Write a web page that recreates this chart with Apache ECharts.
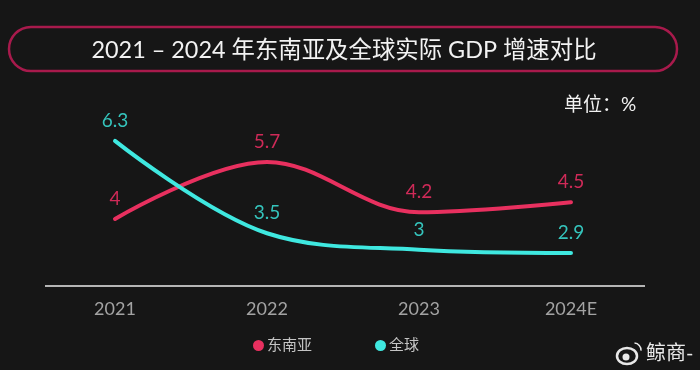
<!DOCTYPE html>
<html><head><meta charset="utf-8">
<style>html,body{margin:0;padding:0;background:#161616}#c{width:700px;height:370px}</style>
<script src="https://cdn.jsdelivr.net/npm/echarts@6/dist/echarts.min.js"></script></head>
<body><div id="c"></div>
<script>
const categories = ['2021', '2022', '2023', '2024E'];
const seaName = '东南亚';
const globalName = '全球';
const seaValues = [4, 5.7, 4.2, 4.5];
const globalValues = [6.3, 3.5, 3, 2.9];
const titleText = '2021 – 2024 年东南亚及全球实际 GDP 增速对比';
const unitText = '单位：%';
const font = 'Lato, "Noto Sans CJK SC", sans-serif';
const chart = echarts.init(document.getElementById('c'), null, {renderer: 'canvas'});
function series(name, data, color, labelColor, axis) {
  return {
    name, type: 'line', data, yAxisIndex: axis, smooth: 0.36, showSymbol: true,
    symbol: 'circle', symbolSize: 1,
    lineStyle: {color, width: 4, cap: 'round'},
    itemStyle: {color},
    label: {show: true, position: 'top', distance: 10, color: labelColor,
      fontSize: 19, fontFamily: font}
  };
}
chart.setOption({
  backgroundColor: '#161616',
  animation: false,
  grid: {left: 39, width: 608, top: 100, height: 186},
  xAxis: {type: 'category', data: categories, boundaryGap: true,
    axisLine: {show: false}, axisTick: {show: false},
    axisLabel: {color: '#a3a3a3', fontSize: 18, fontFamily: font, margin: 14}},
  yAxis: [
    {type: 'value', min: 2, max: 7.55, show: false, splitLine: {show: false}},
    {type: 'value', min: 1.9, max: 7.54, show: false, splitLine: {show: false}}
  ],
  legend: {top: 333, left: 248, itemGap: 63, itemWidth: 11, itemHeight: 11, icon: 'circle',
    data: [seaName, globalName],
    textStyle: {color: '#c4c4c4', fontSize: 15, padding: [0, 0, 0, -2], fontFamily: font}},
  series: [
    series(seaName, seaValues, '#e8305f', '#cf2a58', 0),
    series(globalName, globalValues, '#3fe8e0', '#35c4bc', 1)
  ],
  graphic: [
    {type: 'rect', shape: {x: 9, y: 27, width: 668, height: 44, r: 22},
      style: {fill: 'none', stroke: '#a81a4c', lineWidth: 2.5}},
    {type: 'text', x: 344, y: 50, style: {text: titleText, fill: '#f2f2f2', fontSize: 23.4,
      fontFamily: font, align: 'center', verticalAlign: 'middle'}},
    {type: 'text', x: 600, y: 105, style: {text: unitText, fill: '#f2f2f2', fontSize: 19,
      fontFamily: font, align: 'center', verticalAlign: 'middle'}},
    {type: 'line', shape: {x1: 45, y1: 286, x2: 645, y2: 286},
      style: {stroke: '#b5b5b5', lineWidth: 2}},
    {type: 'text', x: 646, y: 354, style: {text: '鲸商-', fill: '#e8e8e8', fontSize: 20,
      fontFamily: font, verticalAlign: 'middle'}},
    {type: 'ellipse', shape: {cx: 627, cy: 356, rx: 10, ry: 8},
      style: {fill: 'none', stroke: '#e8e8e8', lineWidth: 2.5}},
    {type: 'circle', shape: {cx: 626, cy: 357, r: 3.5}, style: {fill: '#e8e8e8'}},
    {type: 'arc', shape: {cx: 634, cy: 350, r: 7, startAngle: -1.5, endAngle: 0.1},
      style: {fill: 'none', stroke: '#e8e8e8', lineWidth: 1.5}}
  ]
});
</script></body></html>
